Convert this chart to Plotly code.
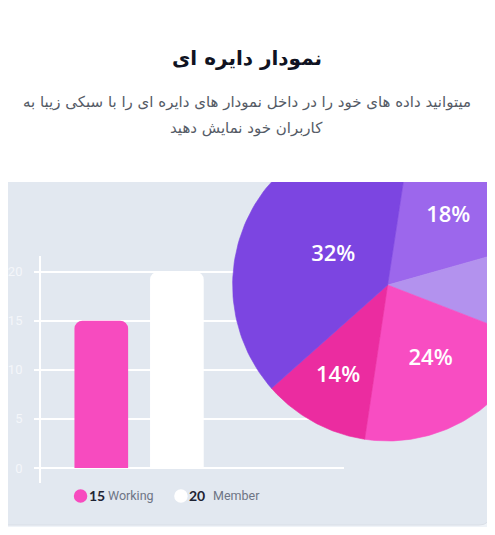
import numpy as np
import plotly.graph_objects as go

# the page body adds an 8px margin, so the figure is sized to fit inside the window
OFF = 8
W, H = 495 - OFF, 535 - 2 * OFF

bar_names = ["Working", "Member"]
bar_values = [15, 20]
bar_colors = ["#F74BBF", "#FFFFFF"]
y_ticks = [0, 5, 10, 15, 20]

slice_share = [18.2, 10.2, 21.5, 11.1, 38.9]
slice_labels = ["18%", "", "24%", "14%", "32%"]
slice_colors = ["#9C67EC", "#B392EE", "#F84DC2", "#EB2CA0", "#7C45E1"]
first_slice_angle = 8.7
label_radius = [0.59, 0.6, 0.55, 0.67, 0.40]  # where each label sits along its slice

title = "نمودار دایره ای"
subtitle = [
    "میتوانید داده های خود را در داخل نمودار های دایره ای را با سبکی زیبا به",
    "کاربران خود نمایش دهید",
]

PAGE_BG = "#EFF3F8"
CARD_BG = "#E2E8F0"
R = 156  # pie radius in px
PIE_CX, PIE_CY = 387, 285


def fx(x):
    return (x - OFF) / W


def fy(y):
    return 1 - (y - OFF) / H


def rounded(x0, y0, x1, y1, r, bottom=True):
    # svg path in paper coords, corners rounded with quadratic curves
    X0, X1 = fx(x0), fx(x1)
    Y0, Y1 = fy(y0), fy(y1)
    rx, ry = r / W, r / H
    p = f"M {X0},{Y1 + (ry if bottom else 0)} "
    p += f"L {X0},{Y0 - ry} Q {X0},{Y0} {X0 + rx},{Y0} L {X1 - rx},{Y0} Q {X1},{Y0} {X1},{Y0 - ry} "
    if bottom:
        p += f"L {X1},{Y1 + ry} Q {X1},{Y1} {X1 - rx},{Y1} L {X0 + rx},{Y1} Q {X0},{Y1} {X0},{Y1 + ry} Z"
    else:
        p += f"L {X1},{Y1} L {X0},{Y1} Z"
    return p


fig = go.Figure()

fig.add_trace(go.Bar(
    x=bar_names,
    y=bar_values,
    marker=dict(color=bar_colors, line=dict(width=0)),
    width=0.71,
    hoverinfo="skip",
    showlegend=False,
))

# pie slices on their own 1px = 1 unit axes, clipped by the card edges
edges = first_slice_angle + np.concatenate([[0], np.cumsum(slice_share)]) / sum(slice_share) * 360
for i, (lab, col) in enumerate(zip(slice_labels, slice_colors)):
    th = np.radians(np.linspace(edges[i], edges[i + 1], 80))
    xs = np.concatenate([[0], R * np.sin(th), [0]])
    ys = np.concatenate([[0], R * np.cos(th), [0]])
    fig.add_trace(go.Scatter(
        x=xs, y=ys, mode="lines", fill="toself", fillcolor=col,
        line=dict(color=col, width=0.6), hoverinfo="skip", showlegend=False,
        xaxis="x2", yaxis="y2",
    ))

mid = np.radians((edges[:-1] + edges[1:]) / 2)
fig.add_trace(go.Scatter(
    x=R * np.array(label_radius) * np.sin(mid),
    y=R * np.array(label_radius) * np.cos(mid),
    mode="text", text=slice_labels,
    textfont=dict(family="Open Sans", size=22, color="white", weight=600),
    hoverinfo="skip", showlegend=False, xaxis="x2", yaxis="y2",
))

shapes = [
    # card body
    dict(type="path", xref="paper", yref="paper", path=rounded(-12, 2, 490, 525, 11),
         layer="below", fillcolor=CARD_BG, line=dict(color="#D9DEE6", width=1)),
    # white header
    dict(type="path", xref="paper", yref="paper", path=rounded(-12, 2, 490, 182, 11, bottom=False),
         layer="below", fillcolor="white", line=dict(width=0)),
]

# legend dots
for cx, col in zip([78, 179], bar_colors):
    shapes.append(dict(type="circle", xref="paper", yref="paper",
                       x0=fx(cx - 6.8), x1=fx(cx + 6.8), y0=fy(496 + 6.8), y1=fy(496 - 6.8),
                       fillcolor=col, line=dict(width=0), layer="above"))

annotations = [
    dict(text=f"<b>{title}</b>", x=fx(245), y=fy(58), xref="paper", yref="paper",
         xanchor="center", yanchor="middle", showarrow=False,
         font=dict(family="DejaVu Sans", size=20, color="#101322")),
]
for i, line in enumerate(subtitle):
    annotations.append(dict(text=line, x=fx(245), y=fy(102 + 26 * i), xref="paper", yref="paper",
                            xanchor="center", yanchor="middle", showarrow=False,
                            font=dict(family="DejaVu Sans", size=15, color="#555B66")))

for nx, tx, v, name in zip([84, 185], [104, 209], bar_values, bar_names):
    annotations.append(dict(text=f"<b>{v}</b>", x=fx(nx), y=fy(495), xref="paper", yref="paper",
                            xanchor="left", yanchor="middle", showarrow=False,
                            font=dict(family="Lato", size=14, color="#1E2333")))
    annotations.append(dict(text=name, x=fx(tx), y=fy(495), xref="paper", yref="paper",
                            xanchor="left", yanchor="middle", showarrow=False,
                            font=dict(family="Roboto", size=12.5, color="#6E7585")))

fig.update_layout(
    width=W,
    height=H,
    margin=dict(l=0, r=0, t=0, b=0),
    paper_bgcolor=PAGE_BG,
    plot_bgcolor="rgba(0,0,0,0)",
    barcornerradius=8,
    shapes=shapes,
    annotations=annotations,
    xaxis=dict(domain=[fx(38), fx(343)], range=[-0.8, 3.21], showgrid=False,
               showticklabels=False, zeroline=False, showline=False, fixedrange=True),
    yaxis=dict(domain=[fy(483), fy(256)], range=[-1.53, 21.6], tickvals=y_ticks,
               showgrid=True, gridcolor="white", gridwidth=1.5, zeroline=False,
               showline=True, linecolor="white", linewidth=1.5,
               ticks="outside", ticklen=5, tickcolor="white", tickwidth=1.5,
               ticklabelstandoff=9,
               tickfont=dict(family="Roboto", size=13, color="#F4F6FA"), fixedrange=True),
    xaxis2=dict(domain=[fx(PIE_CX - 159), fx(490)], range=[-159, 490 - PIE_CX], anchor="y2",
                visible=False, fixedrange=True),
    yaxis2=dict(domain=[fy(PIE_CY + 160), fy(182)], range=[-160, PIE_CY - 182], anchor="x2",
                visible=False, fixedrange=True),
)

fig.write_html("out.html")
